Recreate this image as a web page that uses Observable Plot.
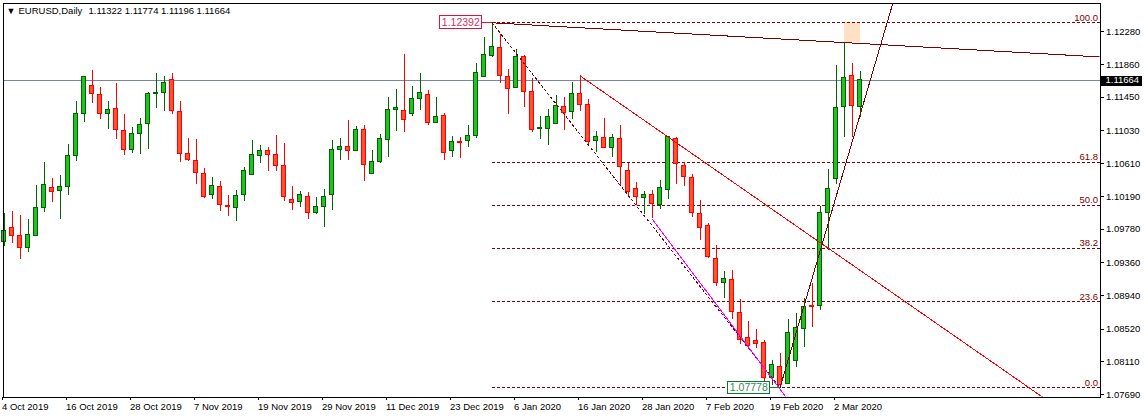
<!DOCTYPE html>
<html>
<head>
<meta charset="utf-8">
<script src="https://cdn.jsdelivr.net/npm/d3@7"></script>
<script src="https://cdn.jsdelivr.net/npm/@observablehq/plot@0.6"></script>
<style>html,body{margin:0;padding:0;background:#fff}svg{display:block}</style>
</head>
<body>
<div id="chart"></div>
<script>
const opens=[1.09623,1.09796,1.09699,1.09543,1.09699,1.10053,1.10306,1.10268,1.10318,1.10706,1.11241,1.11595,1.11481,1.11237,1.11304,1.11026,1.10782,1.10988,1.11111,1.11494,1.11503,1.11671,1.11267,1.10736,1.10647,1.10483,1.10213,1.10318,1.10074,1.10053,1.10213,1.10470,1.10706,1.10773,1.10723,1.10584,1.10154,1.10125,1.10192,1.09985,1.10066,1.10213,1.10782,1.10816,1.10773,1.11039,1.10483,1.10630,1.10913,1.11288,1.11279,1.11237,1.11431,1.11481,1.11123,1.11216,1.10773,1.10887,1.10896,1.10963,1.11705,1.11970,1.12076,1.11709,1.11566,1.11962,1.11519,1.11047,1.11047,1.11111,1.11330,1.11262,1.11494,1.11355,1.10896,1.10938,1.10807,1.10925,1.10521,1.10293,1.10179,1.10217,1.10087,1.10280,1.10925,1.10580,1.10432,1.09977,1.09821,1.09408,1.09100,1.09143,1.08725,1.08409,1.08372,1.08346,1.07899,1.08043,1.07828,1.08114,1.08519,1.08806,1.08814,1.09990,1.10415,1.11326,1.11722,1.11322];
const closes=[1.09762,1.09699,1.09543,1.09712,1.10053,1.10344,1.10251,1.10318,1.10710,1.11241,1.11709,1.11490,1.11237,1.11292,1.11035,1.10782,1.10988,1.11102,1.11494,1.11503,1.11633,1.11279,1.10731,1.10655,1.10495,1.10188,1.10331,1.10091,1.10066,1.10205,1.10521,1.10723,1.10773,1.10719,1.10580,1.10188,1.10112,1.10217,1.09985,1.10066,1.10192,1.10786,1.10816,1.10769,1.11039,1.10596,1.10634,1.10925,1.11292,1.11317,1.11165,1.11431,1.11507,1.11123,1.11203,1.10748,1.10887,1.10875,1.10963,1.11760,1.11987,1.12088,1.11722,1.11557,1.11962,1.11515,1.11039,1.11064,1.11203,1.11342,1.11250,1.11494,1.11351,1.10883,1.10950,1.10811,1.10938,1.10571,1.10251,1.10192,1.10217,1.10099,1.10306,1.10942,1.10609,1.10445,1.09985,1.09800,1.09429,1.09100,1.09155,1.08734,1.08384,1.08304,1.08329,1.07899,1.08068,1.07807,1.08468,1.08536,1.08801,1.08797,1.09990,1.10293,1.11317,1.11696,1.11338,1.11664];
const highs=[1.09977,1.10007,1.09956,1.09905,1.10335,1.10626,1.10428,1.10462,1.10854,1.11397,1.11709,1.11789,1.11570,1.11397,1.11625,1.11233,1.11073,1.11182,1.11507,1.11751,1.11713,1.11751,1.11397,1.10929,1.10917,1.10550,1.10436,1.10386,1.10209,1.10272,1.10563,1.10904,1.10841,1.10816,1.10967,1.10866,1.10323,1.10259,1.10247,1.10184,1.10285,1.10904,1.10929,1.11157,1.11081,1.11094,1.10778,1.10980,1.11448,1.11549,1.11991,1.11587,1.11751,1.11536,1.11448,1.11245,1.10959,1.10942,1.11090,1.11873,1.12206,1.12392,1.12244,1.11802,1.12050,1.11974,1.11684,1.11208,1.11296,1.11473,1.11448,1.11633,1.11722,1.11422,1.11018,1.11182,1.10980,1.11090,1.10609,1.10373,1.10255,1.10268,1.10394,1.10950,1.10946,1.10630,1.10474,1.10146,1.09851,1.09577,1.09248,1.09261,1.08894,1.08616,1.08515,1.08376,1.08123,1.08207,1.08641,1.08717,1.08902,1.09092,1.10070,1.10538,1.11852,1.12135,1.11878,1.11774];
const lows=[1.09568,1.09606,1.09404,1.09492,1.09699,1.09998,1.10125,1.09910,1.10213,1.10643,1.11136,1.11376,1.11174,1.11047,1.10921,1.10719,1.10744,1.10731,1.10795,1.11313,1.11275,1.11237,1.10630,1.10643,1.10352,1.10167,1.10162,1.10011,1.09948,1.09884,1.10137,1.10470,1.10618,1.10516,1.10516,1.10137,1.10023,1.10061,1.09910,1.09973,1.09808,1.10023,1.10655,1.10655,1.10773,1.10390,1.10483,1.10618,1.10693,1.11022,1.11009,1.11212,1.11283,1.11098,1.11123,1.10655,1.10693,1.10681,1.10820,1.10934,1.11705,1.11958,1.11629,1.11237,1.11566,1.11326,1.11009,1.10921,1.10845,1.11111,1.11035,1.11174,1.11267,1.10845,1.10757,1.10811,1.10693,1.10335,1.10188,1.10082,1.09973,1.09914,1.10036,1.10158,1.10352,1.10323,1.09935,1.09640,1.09417,1.09058,1.08911,1.08641,1.08325,1.08262,1.08279,1.07857,1.07807,1.07778,1.07828,1.08039,1.08291,1.08544,1.08755,1.09513,1.10352,1.10946,1.10946,1.11196];

const yTicks=[1.1228,1.1186,1.1145,1.1103,1.1061,1.1019,1.0978,1.0936,1.0894,1.0852,1.0811,1.0769];
const xTicks=[0,8,16,24,32,40,48,56,64,72,80,88,96,104];
const xLabels=["4 Oct 2019","16 Oct 2019","28 Oct 2019","7 Nov 2019","19 Nov 2019","29 Nov 2019","11 Dec 2019","23 Dec 2019","6 Jan 2020","16 Jan 2020","28 Jan 2020","7 Feb 2020","19 Feb 2020","2 Mar 2020"];

const swingHigh=1.12392, swingLow=1.07778, lastPrice=1.11664;
const fibLabels=["100.0","61.8","50.0","38.2","23.6","0.0"];
const fibLevels=[1.12392,1.10629,1.10085,1.09541,1.08867,1.07778];

const channelTop=[[61,1.12392],[137,1.1196]];
const channelRed=[[72,1.11722],[130,1.07647]];
const fibTrend=[[61,1.12392],[97,1.07778]];
const magentaLine=[[81,1.09914],[97.75,1.07659]];
const steepLine=[[97,1.07778],[111.06,1.12623]];

const candles=opens.map((o,i)=>({i,o,h:highs[i],l:lows[i],c:closes[i],up:closes[i]>=o}));
const font='"Liberation Sans",Arial,sans-serif';
const pairLine=(pts,o)=>Plot.line(pts,{x:d=>d[0],y:d=>d[1],clip:"frame",strokeWidth:1,...o});

const chart=Plot.plot({
  width:1145,height:418,
  marginLeft:2.5,marginRight:45.5,marginTop:2.5,marginBottom:21.5,
  style:{background:"#fff",fontFamily:font,fontSize:"9.5px",color:"#000",shapeRendering:"crispEdges"},
  x:{type:"linear",domain:[-0.125,137],axis:null},
  y:{type:"linear",domain:[1.07661,1.12642],axis:null},
  marks:[
    Plot.rect([0],{x1:[105],x2:[107],y1:[1.12392],y2:[1.12139],fill:"#FFE2C4"}),
    Plot.ruleY(fibLevels,{x1:61,x2:137,y:d=>d,stroke:"#800000",strokeDasharray:"3,2"}),
    Plot.ruleY([lastPrice],{stroke:"#778899"}),
    Plot.ruleX(candles,{x:"i",y1:"l",y2:"h",stroke:d=>d.up?"#006400":"#ff0000"}),
    Plot.rect(candles,{x1:d=>d.i-0.25,x2:d=>d.i+0.25,y1:"o",y2:"c",fill:d=>d.up?"#22C022":"#FF5233",stroke:d=>d.up?"#006400":"#ff0000"}),
    pairLine(fibTrend,{stroke:"#800000",strokeDasharray:"2,3"}),
    pairLine(channelTop,{stroke:"#800000"}),
    pairLine(channelRed,{stroke:"#ff0000"}),
    pairLine(magentaLine,{stroke:"#ff00ff"}),
    pairLine(steepLine,{stroke:"#800000"}),
    Plot.text(fibLabels,{x:137,y:(d,i)=>fibLevels[i],text:d=>d,textAnchor:"end",lineAnchor:"bottom",dx:-2,dy:-2,fill:"#800000",fontSize:9.5}),
    Plot.ruleY([swingHigh],{x1:59.75,x2:61,stroke:"#DC143C"}),
    Plot.rect([0],{x1:[54.5],x2:[59.75],y1:[1.12472],y2:[1.12312],fill:"#fff",stroke:"#DC143C"}),
    Plot.text(["1.12392"],{x:[57.1],y:[swingHigh],text:d=>d,fill:"#E0305A",fontSize:10.5}),
    Plot.ruleY([swingLow],{x1:95.75,x2:97,stroke:"#0A7A2A"}),
    Plot.rect([0],{x1:[90.5],x2:[95.75],y1:[1.07849],y2:[1.07701],fill:"#fff",stroke:"#0A7A2A"}),
    Plot.text(["1.07778"],{x:[93.1],y:[swingLow],text:d=>d,fill:"#2E8B57",fontSize:10.5}),
    Plot.frame({stroke:"#000"}),
    Plot.axisY({anchor:"right",ticks:yTicks,tickFormat:d=>d.toFixed(5),tickSize:3,tickPadding:3,label:null,textAnchor:"start",stroke:"#000",fill:"#000"}),
    Plot.axisX({ticks:xTicks,tickFormat:i=>xLabels[xTicks.indexOf(i)],tickSize:3,tickPadding:3,label:null,textAnchor:"start",dx:-2,stroke:"#000",fill:"#000"}),
    Plot.rect([0],{x1:[137.19],x2:[142.3],y1:[1.11713],y2:[1.11591],fill:"#000",clip:false}),
    Plot.text([lastPrice],{x:137.69,y:d=>d,text:d=>d.toFixed(5),textAnchor:"start",fill:"#fff",clip:false}),
    Plot.text(["▼"],{frameAnchor:"top-left",dx:3.5,dy:4.5,lineAnchor:"top",fontSize:9,fill:"#000"}),
    Plot.text(["EURUSD,Daily"],{frameAnchor:"top-left",dx:15.5,dy:4,lineAnchor:"top",textAnchor:"start",fill:"#000"}),
    Plot.text(["1.11322 1.11774 1.11196 1.11664"],{frameAnchor:"top-left",dx:85.5,dy:4,lineAnchor:"top",textAnchor:"start",fill:"#000"})
  ]
});
document.getElementById("chart").appendChild(chart);
</script>
</body>
</html>
